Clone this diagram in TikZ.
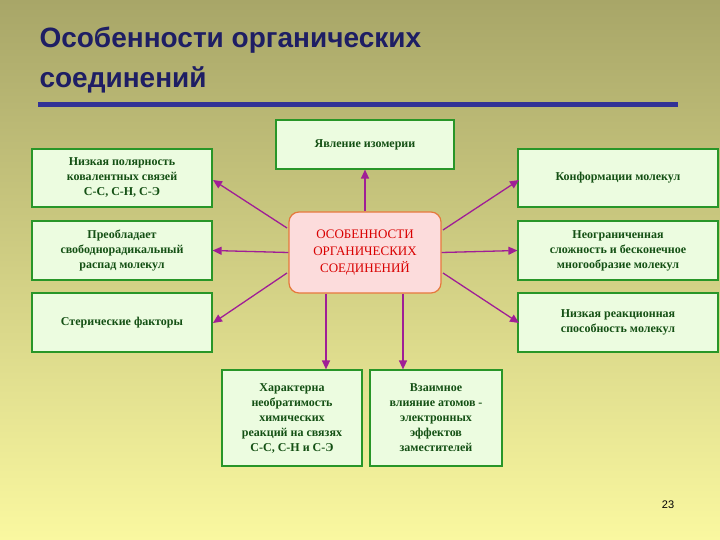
\documentclass[tikz,border=0pt]{standalone}
\usepackage{fontspec}
\setmainfont{Liberation Serif}
\newfontfamily\titlefont{Liberation Sans}
\usetikzlibrary{arrows.meta}
\definecolor{bgtop}{RGB}{168,166,104}
\definecolor{bgbot}{RGB}{250,248,160}
\definecolor{boxfill}{RGB}{236,252,224}
\definecolor{boxline}{RGB}{40,150,40}
\definecolor{txtgreen}{RGB}{20,80,20}
\definecolor{arrowc}{RGB}{160,30,150}
\definecolor{titlec}{RGB}{30,30,100}
\definecolor{barc}{RGB}{50,50,150}
\definecolor{centfill}{RGB}{252,220,220}
\definecolor{centline}{RGB}{230,120,60}
\begin{document}
\begin{tikzpicture}[x=1pt,y=-1pt,
  box/.style={draw=boxline,line width=1.2pt,fill=boxfill,text=txtgreen,font=\bfseries\fontsize{12}{15}\selectfont,align=center,inner sep=0pt},
  arr/.style={draw=arrowc,line width=1.3pt,-{Triangle[length=9pt,width=8pt]}}]
\shade[top color=bgtop,bottom color=bgbot] (0,0) rectangle (720,540);
\useasboundingbox (0,0) rectangle (720,540);
\node[anchor=west,text=titlec,font=\titlefont\bfseries\fontsize{28}{30}\selectfont] (t1) at (36,40) {Особенности органических};
\node[anchor=west,text=titlec,font=\titlefont\bfseries\fontsize{28}{30}\selectfont] (t2) at (36,80) {соединений};
\fill[barc] (38,102) rectangle (678,107);
\node[box,minimum width=178,minimum height=49] (top) at (365,144.5) {Явление изомерии};
\node[box,minimum width=180,minimum height=58] (l1) at (122,178) {Низкая полярность\\ковалентных связей\\С-С, С-Н, С-Э};
\node[box,minimum width=180,minimum height=59] (l2) at (122,250.5) {Преобладает\\свободнорадикальный\\распад молекул};
\node[box,minimum width=180,minimum height=59] (l3) at (122,322.5) {Стерические факторы};
\node[box,minimum width=200,minimum height=58] (r1) at (618,178) {Конформации молекул};
\node[box,minimum width=200,minimum height=59] (r2) at (618,250.5) {Неограниченная\\сложность и бесконечное\\многообразие молекул};
\node[box,minimum width=200,minimum height=59] (r3) at (618,322.5) {Низкая реакционная\\способность молекул};
\node[box,minimum width=140,minimum height=96] (b1) at (292,418) {Характерна\\необратимость\\химических\\реакций на связях\\С-С, С-Н и С-Э};
\node[box,minimum width=132,minimum height=96] (b2) at (436,418) {Взаимное\\влияние атомов -\\электронных\\эффектов\\заместителей};
\node[draw=centline,line width=1.2pt,fill=centfill,rounded corners=10pt,minimum width=152,minimum height=81,text=red!85!black,font=\fontsize{13}{17}\selectfont,align=center] (c) at (365,252.5) {ОСОБЕННОСТИ\\ОРГАНИЧЕСКИХ\\СОЕДИНЕНИЙ};
\node[font=\titlefont\fontsize{11}{13}\selectfont] (pg) at (668,505) {23};
\coordinate (a1) at (287,228); \coordinate (a1t) at (213,180);
\coordinate (a3) at (287,273); \coordinate (a3t) at (213,323);
\coordinate (a4) at (443,230); \coordinate (a4t) at (519,180);
\coordinate (a6) at (443,273); \coordinate (a6t) at (519,323);
\draw[arr] (c.north) -- (top.south);
\draw[arr] (c.west) -- (l2.east);
\draw[arr] (c.east) -- (r2.west);
\draw[arr] (a1) -- (a1t);
\draw[arr] (a3) -- (a3t);
\draw[arr] (a4) -- (a4t);
\draw[arr] (a6) -- (a6t);
\draw[arr] (c.south -| 326,0) -- (b1.north -| 326,0);
\draw[arr] (c.south -| 403,0) -- (b2.north -| 403,0);
\end{tikzpicture}
\end{document}
